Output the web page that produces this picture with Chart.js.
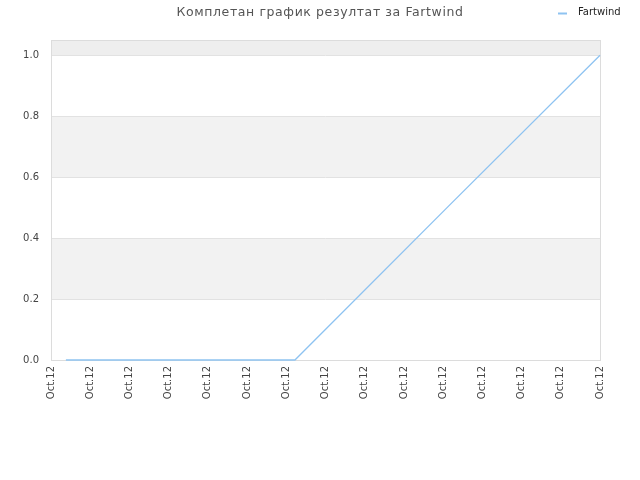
<!DOCTYPE html>
<html><head><meta charset="utf-8">
<script src="https://cdn.jsdelivr.net/npm/chart.js@4/dist/chart.umd.min.js"></script>
<style>html,body{margin:0;padding:0;background:#fff}#wrap{width:640px;height:480px}</style>
</head><body><div id="wrap"><canvas id="c" width="640" height="480"></canvas></div>
<script>
const titleText = 'Комплетан график резултат за Fartwind';
const seriesName = 'Fartwind';
const xTickLabels = ['Oct.12','Oct.12','Oct.12','Oct.12','Oct.12','Oct.12','Oct.12','Oct.12','Oct.12','Oct.12','Oct.12','Oct.12','Oct.12','Oct.12','Oct.12'];
const xPositions = [0.38, 6.22, 10.1, 14];
const seriesValues = [0, 0, 0.5, 1.0];
const bandRanges = [[0.2,0.4,'#f2f2f2'],[0.6,0.8,'#f2f2f2'],[1.0,1.05,'#eeeeee']];

const points = xPositions.map((x,i)=>({x:x,y:seriesValues[i]}));
const lineColor = '#8ec3f1';

const bgPlugin = {
  id:'bg',
  beforeDraw(chart){
    const {ctx, chartArea:a, scales:{y}} = chart;
    ctx.save();
    bandRanges.forEach(b=>{
      const y1 = y.getPixelForValue(b[1]), y0 = y.getPixelForValue(b[0]);
      ctx.fillStyle = b[2];
      ctx.fillRect(a.left, y1, a.right-a.left, y0-y1);
    });
    ctx.restore();
  },
  beforeDatasetsDraw(chart){
    const {ctx, chartArea:a} = chart;
    ctx.save();
    ctx.strokeStyle = '#dcdcdc';
    ctx.lineWidth = 1;
    ctx.strokeRect(Math.round(a.left)+0.5, Math.round(a.top)+0.5, Math.round(a.right-a.left), Math.round(a.bottom-a.top));
    ctx.restore();
  },
  afterDraw(chart){
    const ctx = chart.ctx;
    const ds = chart.data.datasets[0];
    ctx.save();
    // title
    ctx.fillStyle = '#555';
    ctx.font = '12.5px "DejaVu Sans"';
    try { ctx.letterSpacing = '0.6px'; } catch(e) {}
    ctx.textAlign = 'center';
    ctx.textBaseline = 'middle';
    ctx.fillText(titleText, 320, 12.5);
    try { ctx.letterSpacing = '0px'; } catch(e) {}
    // legend
    ctx.strokeStyle = ds.borderColor;
    ctx.lineWidth = 2;
    ctx.beginPath(); ctx.moveTo(558,13.5); ctx.lineTo(567,13.5); ctx.stroke();
    ctx.fillStyle = '#222';
    ctx.font = '10px "DejaVu Sans"';
    ctx.textAlign = 'left';
    ctx.fillText(ds.label, 578, 12.5);
    ctx.restore();
  }
};

new Chart(document.getElementById('c'), {
  type:'line',
  data:{datasets:[{label:seriesName, data:points, borderColor:lineColor, backgroundColor:lineColor, borderWidth:1.3, pointRadius:0, tension:0, fill:false, clip:3}]},
  options:{
    responsive:false, animation:false,
    layout:{padding:{left:0,right:40,top:40,bottom:0}},
    plugins:{
      legend:{display:false},
      tooltip:{enabled:false},
      title:{display:false}
    },
    scales:{
      x:{type:'linear', min:0, max:14,
        grid:{display:false, drawTicks:false},
        border:{display:false},
        ticks:{stepSize:1, autoSkip:false, maxRotation:90, minRotation:90, padding:6, color:'#444', font:{family:'DejaVu Sans', size:10},
          callback:(v)=> xTickLabels[Math.round(v)] },
        afterFit(s){ s.height = 120; }
      },
      y:{min:0, max:1.05,
        grid:{color:'#e2e2e2', drawTicks:false},
        border:{display:false},
        ticks:{stepSize:0.2, padding:12, color:'#444', font:{family:'DejaVu Sans', size:10}, callback:(v)=>Number(v).toFixed(1)},
        afterBuildTicks(s){ s.ticks = s.ticks.filter(t=>t.value<=1.0001); },
        afterFit(s){ s.width = 51; }
      }
    }
  },
  plugins:[bgPlugin]
});
</script></body></html>
